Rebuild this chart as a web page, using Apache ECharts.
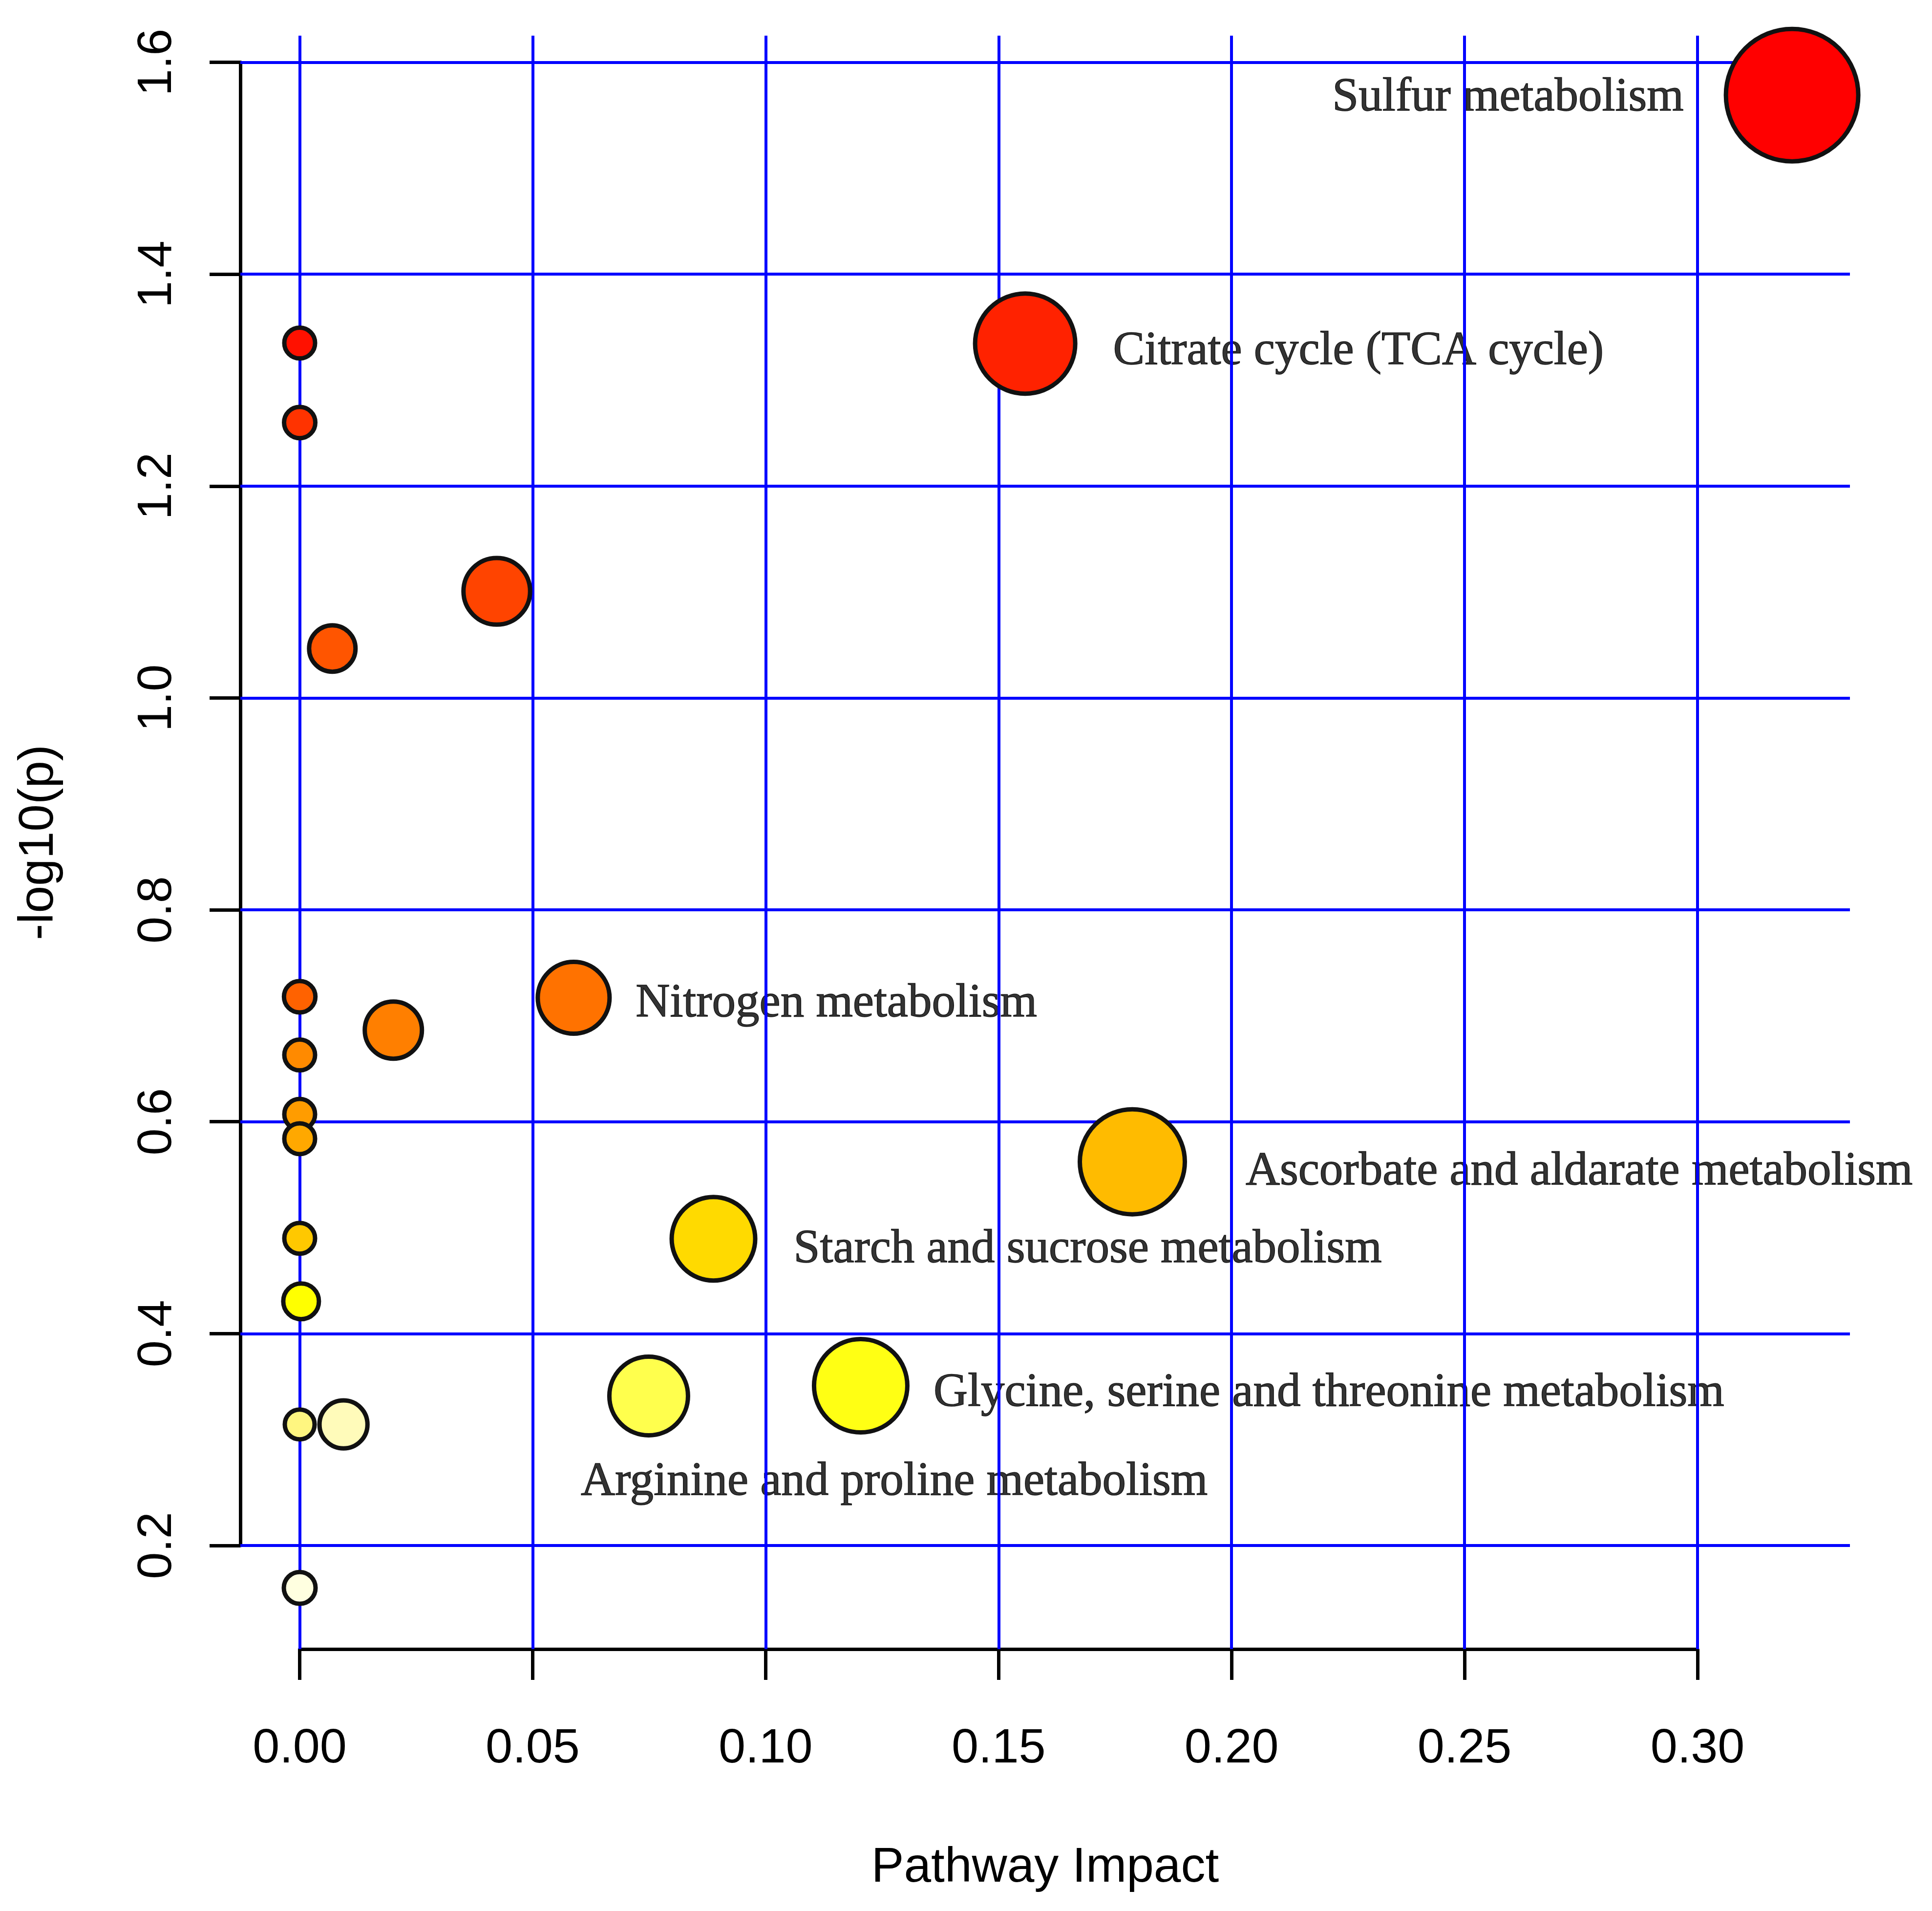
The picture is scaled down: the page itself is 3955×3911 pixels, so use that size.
<!DOCTYPE html>
<html>
<head>
<meta charset="utf-8">
<script src="https://cdn.jsdelivr.net/npm/echarts@6/dist/echarts.min.js"></script>
<style>
html,body{margin:0;padding:0;background:#ffffff;}
#chart{width:3955px;height:3911px;}
</style>
</head>
<body>
<div id="chart"></div>
<script>
// ---------------- DATA ----------------
const pathwayNames = [
  'Sulfur metabolism', '', 'Citrate cycle (TCA cycle)', '', '', '', '',
  'Nitrogen metabolism', '', '', '', '',
  'Ascorbate and aldarate metabolism', 'Starch and sucrose metabolism', '', '',
  'Glycine, serine and threonine metabolism', 'Arginine and proline metabolism', '', '', ''
];
const pathwayImpact = [
  0.3203, 0.0000, 0.1557, 0.0000, 0.0423, 0.0070, 0.0000,
  0.0588, 0.0201, 0.0000, 0.0000, 0.0000,
  0.1787, 0.0888, 0.0000, 0.0003,
  0.1204, 0.0749, 0.0000, 0.0094, 0.0000
];
const negLog10P = [
  1.569, 1.335, 1.3345, 1.260, 1.1007, 1.0467, 0.718,
  0.717, 0.6865, 0.663, 0.607, 0.584,
  0.5622, 0.4895, 0.490, 0.4305,
  0.3508, 0.3411, 0.3143, 0.3143, 0.160
];
const xTickValues = [0.00, 0.05, 0.10, 0.15, 0.20, 0.25, 0.30];
const xTickLabels = ['0.00', '0.05', '0.10', '0.15', '0.20', '0.25', '0.30'];
const yTickValues = [0.2, 0.4, 0.6, 0.8, 1.0, 1.2, 1.4, 1.6];
const yTickLabels = ['0.2', '0.4', '0.6', '0.8', '1.0', '1.2', '1.4', '1.6'];
const xAxisTitle = 'Pathway Impact';
const yAxisTitle = '-log10(p)';

// ---------------- STYLE ----------------
const markerOuterRadius = [140, 36, 107, 36.5, 72.7, 52, 36.7, 78, 63, 36, 36, 36, 112, 90, 36, 41, 100, 85, 35, 53.6, 37];
const markerColors = [
  '#FF0000', '#FF1100', '#FF2200', '#FF3300', '#FF4400', '#FF5500', '#FF6200',
  '#FF7200', '#FF7F00', '#FF8A00', '#FF9C00', '#FFA800',
  '#FFBB00', '#FFDA00', '#FFC800', '#FFFF00',
  '#FFFF14', '#FFFF4D', '#FFF680', '#FFFBBA', '#FFFFE0'
];
const labelPlacement = {
  'Sulfur metabolism': {align: 'right', dx: -222, dy: 6},
  'Citrate cycle (TCA cycle)': {align: 'left', dx: 180, dy: 16},
  'Nitrogen metabolism': {align: 'left', dx: 127, dy: 12},
  'Ascorbate and aldarate metabolism': {align: 'left', dx: 232, dy: 21},
  'Starch and sucrose metabolism': {align: 'left', dx: 164, dy: 22},
  'Glycine, serine and threonine metabolism': {align: 'left', dx: 149, dy: 15},
  'Arginine and proline metabolism': {align: 'left', dx: -139, dy: 176}
};
const BORDER_W = 9;
const GRID_BLUE = '#0000FF';
const SANS = 'Liberation Sans, Arial, sans-serif';
const SERIF = 'Liberation Serif, Times New Roman, serif';

// ---------------- LAYOUT ----------------
const TICK_BOX = {left: 613.5, top: 127.5, right: 3475, bottom: 3163};
const PLOT_BOX = {left: 492, top: 73, right: 3787, bottom: 3375};
const xLo = xTickValues[0], xHi = xTickValues[xTickValues.length - 1];
const yLo = yTickValues[0], yHi = yTickValues[yTickValues.length - 1];
const pxPerX = (TICK_BOX.right - TICK_BOX.left) / (xHi - xLo);
const pxPerY = (TICK_BOX.bottom - TICK_BOX.top) / (yHi - yLo);
const plotXMin = xLo + (PLOT_BOX.left - TICK_BOX.left) / pxPerX;
const plotXMax = xLo + (PLOT_BOX.right - TICK_BOX.left) / pxPerX;
const plotYMax = yHi + (TICK_BOX.top - PLOT_BOX.top) / pxPerY;
const plotYMin = yLo - (PLOT_BOX.bottom - TICK_BOX.bottom) / pxPerY;

const bubbleData = pathwayImpact.map((x, i) => ({
  name: pathwayNames[i],
  value: [x, negLog10P[i]],
  symbolSize: 2 * markerOuterRadius[i] - BORDER_W,
  itemStyle: {color: markerColors[i]}
}));

const labelData = [];
pathwayNames.forEach((n, i) => {
  if (!n) return;
  const p = labelPlacement[n];
  labelData.push({
    name: n,
    value: [pathwayImpact[i], negLog10P[i]],
    label: {show: true, align: p.align, offset: [p.dx, p.dy]}
  });
});

const gridLines = xTickValues.map(v => ({xAxis: v})).concat(yTickValues.map(v => ({yAxis: v})));

const chart = echarts.init(document.getElementById('chart'), null, {renderer: 'canvas'});
chart.setOption({
  animation: false,
  backgroundColor: '#ffffff',
  grid: [
    {left: PLOT_BOX.left, top: PLOT_BOX.top, width: PLOT_BOX.right - PLOT_BOX.left,
     height: PLOT_BOX.bottom - PLOT_BOX.top, containLabel: false, outerBoundsMode: 'none'},
    {left: TICK_BOX.left, top: TICK_BOX.top, width: TICK_BOX.right - TICK_BOX.left,
     height: TICK_BOX.bottom - TICK_BOX.top, containLabel: false, outerBoundsMode: 'none'}
  ],
  xAxis: [
    {gridIndex: 0, type: 'value', min: plotXMin, max: plotXMax,
     axisLine: {show: false}, axisTick: {show: false}, axisLabel: {show: false}, splitLine: {show: false},
     name: xAxisTitle, nameLocation: 'middle', nameGap: 398, nameMoveOverlap: false,
     nameTextStyle: {fontFamily: SANS, fontSize: 100, color: '#000'}},
    {gridIndex: 1, type: 'value', position: 'bottom', offset: PLOT_BOX.bottom - TICK_BOX.bottom,
     min: xLo, max: xHi, interval: xTickValues[1] - xTickValues[0],
     axisLine: {show: true, onZero: false, lineStyle: {color: '#000', width: 7}},
     axisTick: {show: true, length: 63, lineStyle: {color: '#000', width: 7}},
     axisLabel: {show: true, margin: 155, fontFamily: SANS, fontSize: 99, color: '#000',
       showMinLabel: true, showMaxLabel: true, hideOverlap: false,
       formatter: v => { const k = xTickValues.findIndex(t => Math.abs(t - v) < 1e-9); return k >= 0 ? xTickLabels[k] : ''; }},
     splitLine: {show: false}}
  ],
  yAxis: [
    {gridIndex: 0, type: 'value', min: plotYMin, max: plotYMax,
     axisLine: {show: false}, axisTick: {show: false}, axisLabel: {show: false}, splitLine: {show: false},
     name: yAxisTitle, nameLocation: 'middle', nameGap: 362, nameMoveOverlap: false,
     nameTextStyle: {fontFamily: SANS, fontSize: 100, color: '#000'}},
    {gridIndex: 1, type: 'value', position: 'left', offset: TICK_BOX.left - PLOT_BOX.left,
     min: yLo, max: yHi, interval: yTickValues[1] - yTickValues[0],
     axisLine: {show: true, onZero: false, lineStyle: {color: '#000', width: 7}},
     axisTick: {show: true, length: 63, lineStyle: {color: '#000', width: 7}},
     axisLabel: {show: true, margin: 120, rotate: 90, fontFamily: SANS, fontSize: 99, color: '#000',
       showMinLabel: true, showMaxLabel: true, hideOverlap: false,
       formatter: v => { const k = yTickValues.findIndex(t => Math.abs(t - v) < 1e-9); return k >= 0 ? yTickLabels[k] : ''; }},
     splitLine: {show: false}}
  ],
  series: [
    {
      type: 'scatter', xAxisIndex: 0, yAxisIndex: 0, z: 2, silent: true,
      symbol: 'circle', symbolSize: 1, itemStyle: {color: 'rgba(0,0,0,0)'},
      label: {show: true, position: 'inside', verticalAlign: 'middle',
        fontFamily: SERIF, fontSize: 97, color: '#000',
        textBorderColor: '#000', textBorderWidth: 1.5, formatter: p => p.name},
      data: labelData,
      markLine: {
        silent: true, z: 5, symbol: ['none', 'none'], label: {show: false},
        lineStyle: {color: GRID_BLUE, width: 6, type: 'solid'},
        emphasis: {disabled: true},
        data: gridLines
      }
    },
    {
      type: 'scatter', xAxisIndex: 0, yAxisIndex: 0, z: 10, silent: true, clip: false,
      symbol: 'circle',
      itemStyle: {borderColor: '#111', borderWidth: BORDER_W, opacity: 1},
      data: bubbleData
    }
  ]
});
</script>
</body>
</html>
